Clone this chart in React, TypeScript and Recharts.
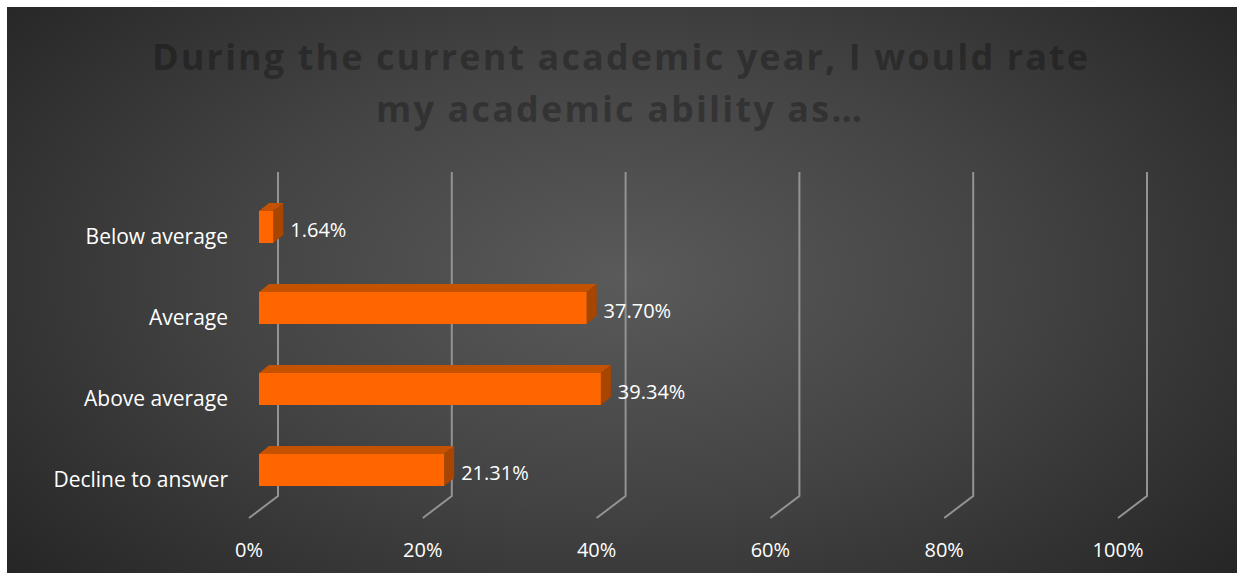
import { BarChart, Bar, XAxis, YAxis, CartesianGrid, LabelList } from "recharts"

const categories = ["Below average", "Average", "Above average", "Decline to answer"]
const shares = [0.0164, 0.377, 0.3934, 0.2131]
const xTicks = [0, 0.2, 0.4, 0.6, 0.8, 1]
const titleLines = ["During the current academic year, I would rate", "my academic ability as…"]

const data = categories.map((name, i) => ({ name, value: shares[i] }))

const FONT = "'Open Sans', sans-serif"
const INSET = 10 // bars sit a little behind the front plane
const DX = 10
const DY = 8

function GridLine(props: any) {
  const { x1, y1, y2, key } = props
  // back wall line, then the floor diagonal to the front plane
  const d = `M${x1 + 29},${y1 - 14} L${x1 + 29},${y2 - 14} L${x1},${y2 + 8}`
  return <path key={key} d={d} fill="none" stroke="#939393" strokeWidth={2} />
}

function Bar3D(props: any) {
  const { x, y, width, height } = props
  const fx = x + INSET
  const r = fx + width
  return (
    <g>
      <polygon points={`${fx},${y} ${fx + DX},${y - DY} ${r + DX},${y - DY} ${r},${y}`} fill="#c45200" />
      <polygon points={`${r},${y} ${r + DX},${y - DY} ${r + DX},${y + height - DY} ${r},${y + height}`} fill="#a84500" />
      <rect x={fx} y={y} width={width} height={height} fill="#ff6600" />
    </g>
  )
}

function ValueLabel(props: any) {
  const { x, y, width, height, value } = props
  return (
    <text x={x + INSET + width + DX + 7} y={y + height / 2 + 2} fill="#ffffff" fontSize={20} fontFamily={FONT} dominantBaseline="central">
      {(value * 100).toFixed(2)}%
    </text>
  )
}

function CategoryTick(props: any) {
  const { x, y, payload } = props
  return (
    <text x={x - 21} y={y + 9} textAnchor="end" dominantBaseline="central" fill="#ffffff" fontSize={21} fontFamily={FONT}>
      {payload.value}
    </text>
  )
}

function PercentTick(props: any) {
  const { x, y, payload } = props
  return (
    <text x={x} y={y + 39} textAnchor="middle" dominantBaseline="central" fill="#ffffff" fontSize={20} fontFamily={FONT}>
      {Math.round(payload.value * 100)}%
    </text>
  )
}

export default function App() {
  return (
    <div
      style={{
        position: "absolute",
        left: 7,
        top: 7,
        width: 1230,
        height: 566,
        background: "radial-gradient(ellipse 65% 80% at 50% 48%, #5a5a5a 0%, #434343 50%, #262626 100%)",
      }}
    >
      <svg width={1230} height={140} style={{ position: "absolute", left: 0, top: 0 }}>
        <text x={613} y={63} textAnchor="middle" textLength={936} lengthAdjust="spacing" fontFamily={FONT} fontWeight={700} fontSize={36} fill="rgba(0,0,0,0.3)">
          {titleLines[0]}
        </text>
        <text x={612} y={115} textAnchor="middle" textLength={486} lengthAdjust="spacing" fontFamily={FONT} fontWeight={700} fontSize={36} fill="rgba(0,0,0,0.3)">
          {titleLines[1]}
        </text>
      </svg>
      <BarChart
        width={1230}
        height={566}
        data={data}
        layout="vertical"
        margin={{ top: 179, right: 119, bottom: 0, left: 0 }}
        style={{ position: "absolute", left: 0, top: 0 }}
      >
        <CartesianGrid horizontal={false} vertical={GridLine} />
        <XAxis
          type="number"
          domain={[0, 1]}
          ticks={xTicks}
          height={63}
          axisLine={false}
          tickLine={false}
          tickSize={0}
          tickMargin={0}
          tick={PercentTick}
        />
        <YAxis
          type="category"
          dataKey="name"
          width={242}
          axisLine={false}
          tickLine={false}
          tickSize={0}
          tickMargin={0}
          tick={CategoryTick}
        />
        <Bar dataKey="value" barSize={32} shape={Bar3D} isAnimationActive={false}>
          <LabelList dataKey="value" content={ValueLabel} />
        </Bar>
      </BarChart>
    </div>
  )
}
